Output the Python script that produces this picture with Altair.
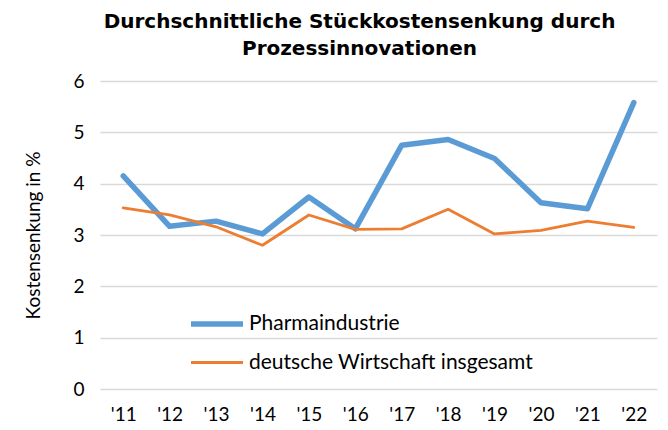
import altair as alt
import pandas as pd

years = ["'11", "'12", "'13", "'14", "'15", "'16", "'17", "'18", "'19", "'20", "'21", "'22"]
pharma = [4.15, 3.17, 3.27, 3.02, 3.74, 3.12, 4.75, 4.86, 4.49, 3.63, 3.51, 5.58]
gesamt = [3.53, 3.39, 3.16, 2.80, 3.39, 3.11, 3.12, 3.50, 3.02, 3.09, 3.27, 3.15]
series = ["Pharmaindustrie", "deutsche Wirtschaft insgesamt"]

rows = []
for i, y in enumerate(years):
    rows.append({"Jahr": y, "Wert": pharma[i], "Reihe": series[0], "order": i})
    rows.append({"Jahr": y, "Wert": gesamt[i], "Reihe": series[1], "order": i})
df = pd.DataFrame(rows)

font = "Lato"

chart = alt.Chart(df).mark_line(strokeCap="round", strokeJoin="round").encode(
    x=alt.X("Jahr:N", sort=years, title=None,
            scale=alt.Scale(paddingInner=0, paddingOuter=0.5),
            axis=alt.Axis(labelAngle=0, labelFontSize=19, labelFont=font, labelColor="#000000",
                          ticks=False, domain=False, grid=False, labelPadding=16)),
    y=alt.Y("Wert:Q", title="Kostensenkung in %",
            scale=alt.Scale(domain=[0, 6], nice=False),
            axis=alt.Axis(values=[0, 1, 2, 3, 4, 5, 6], labelFontSize=19, labelFont=font,
                          labelColor="#000000", ticks=False, domain=False, grid=True,
                          gridColor="#d9d9d9", gridWidth=1.3, labelPadding=16,
                          titleFont=font, titleFontSize=19, titleFontWeight="normal",
                          titleColor="#000000", titlePadding=29)),
    color=alt.Color("Reihe:N", sort=series,
                    scale=alt.Scale(domain=series, range=["#5b9bd5", "#ed7d31"]),
                    legend=alt.Legend(title=None, orient="none", legendX=88, legendY=214,
                                      symbolType="stroke", symbolSize=2704,
                                      labelFont=font, labelFontSize=21, labelColor="#000000",
                                      labelLimit=400, rowPadding=-2, padding=0, labelOffset=3)),
    strokeWidth=alt.StrokeWidth("Reihe:N", sort=series,
                                scale=alt.Scale(domain=series, range=[5.5, 2.8]),
                                legend=None),
    order="order:Q",
).properties(
    width=557,
    height=308,
    autosize=alt.AutoSizeParams(type="none"),
    padding={"left": 92, "top": 73, "right": 3, "bottom": 41},
    title=alt.TitleParams(
        text=["Durchschnittliche Stückkostensenkung durch", "Prozessinnovationen"],
        font="DejaVu Sans", fontSize=20, fontWeight="bold", color="#000000",
        anchor="middle", frame="group", dx=-19, offset=13, lineHeight=27,
    ),
).configure_view(stroke=None)

chart.save("out.html", embed_options={"renderer": "svg", "actions": False})
